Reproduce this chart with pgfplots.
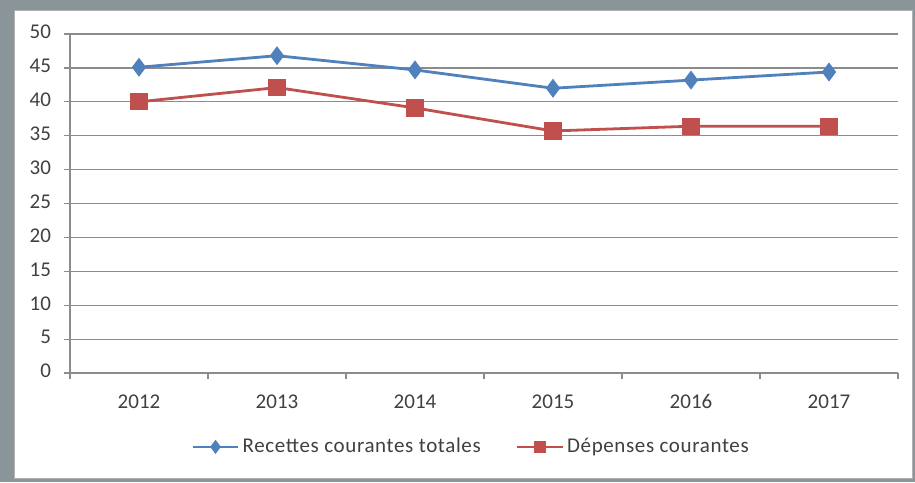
\documentclass[border=0pt]{standalone}
\usepackage{pgfplots}
\pgfplotsset{compat=1.18}
\usepackage{fontspec}
\setmainfont{Carlito}
\newfontfamily\legfont[LetterSpace=3]{Carlito}

\definecolor{recblue}{HTML}{4F81BD}
\definecolor{depred}{HTML}{C0504D}
\definecolor{gridgray}{HTML}{8C8C8C}
\definecolor{framegray}{HTML}{8A9499}
\definecolor{txtgray}{HTML}{404040}

\pgfdeclarelayer{background}
\pgfsetlayers{background,main}

\begin{document}
\begin{tikzpicture}[x=0.5pt,y=0.5pt]
\begin{axis}[
    name=ax,
    scale only axis,
    width=414pt, height=169.5pt,
    xmin=0.5, xmax=6.5,
    ymin=0, ymax=50,
    axis lines*=left,
    axis line style={gridgray, line width=0.6pt},
    xtick={1,...,6},
    xticklabels={2012,2013,2014,2015,2016,2017},
    minor xtick={0.5,1.5,...,6.5},
    major x tick style={draw=none},
    minor x tick style={gridgray, line width=0.6pt},
    ytick={0,5,...,50},
    tick align=outside,
    major tick length=3pt,
    minor tick length=3pt,
    ymajorgrids=true,
    grid style={gridgray, line width=0.6pt},
    y tick style={gridgray, line width=0.6pt},
    tick label style={font=\fontsize{10.5}{12}\selectfont, text=txtgray},
    typeset ticklabels with strut,
    /pgf/number format/assume math mode=true,
    xticklabel style={yshift=-3pt},
    yticklabel style={xshift=-3pt},
    legend columns=2,
    legend style={at={(0.485,-0.218)}, anchor=center, draw=none, fill=none,
        font=\legfont\fontsize{10.5}{12}\selectfont, text=txtgray,
        nodes={inner xsep=1.5pt},
        /tikz/every even column/.append style={column sep=16pt}},
    legend image code/.code={
        \draw[mark repeat=2,mark phase=2,mark size=2.4pt]
        plot coordinates {(0cm,0cm) (0.4cm,0cm) (0.8cm,0cm)};},
]
\addplot[recblue, line width=1.4pt, mark=diamond*, mark size=3.6pt,
    mark options={fill=recblue}] coordinates {
    (1,45.1) (2,46.8) (3,44.7) (4,42.0) (5,43.2) (6,44.4)
};
\addlegendentry{Recettes courantes totales}
\addplot[depred, line width=1.4pt, mark=square*, mark size=3.6pt,
    mark options={fill=depred}] coordinates {
    (1,40.0) (2,42.1) (3,39.1) (4,35.7) (5,36.4) (6,36.4)
};
\addlegendentry{Dépenses courantes}
\end{axis}
% screenshot frame (1 unit = 1 px of the reference), axis corner at (70,109)
\begin{scope}[shift={(ax.south west)}, shift={(-70,-109)}]
\begin{pgfonlayer}{background}
\fill[framegray] (0,0) rectangle (915,482);
\fill[white] (14,4) rectangle (912,472);
\draw[gray!60] (14,4) rectangle (912,472);
\end{pgfonlayer}
\pgfresetboundingbox
\path[use as bounding box] (0,0) rectangle (915,482);
\end{scope}
\end{tikzpicture}
\end{document}
